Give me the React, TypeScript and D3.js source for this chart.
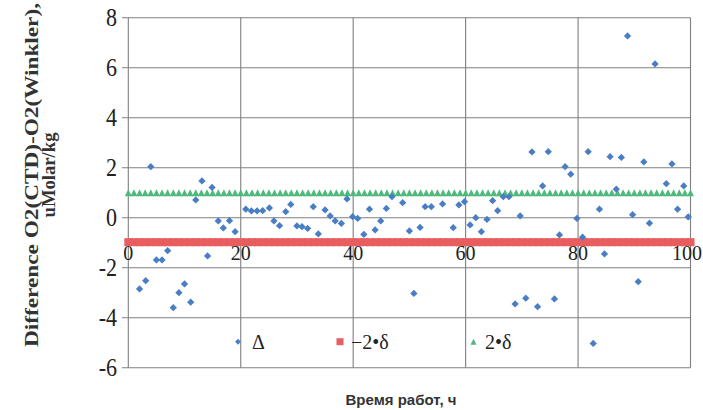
import React from 'react';
import * as d3 from 'd3';

// Δ series: hour, difference (uMolar/kg)
const deltaHours = [
  2.0, 3.1, 4.0, 5.0, 6.0, 7.0, 8.0, 9.0, 10.0, 11.1, 12.0, 13.1, 14.1, 14.9, 16.0, 16.9, 18.0, 19.0,
  20.9, 21.9, 22.9, 23.9, 25.1, 25.9, 26.9, 28.0, 28.9, 30.0, 30.9, 31.9, 32.9, 33.8, 35.0, 35.9, 36.8,
  37.9, 38.9, 39.9, 40.8, 41.9, 42.9, 43.9, 44.9, 45.9, 46.9, 48.8, 50.0, 50.8, 51.9, 52.8, 53.9, 55.9,
  57.8, 58.8, 59.8, 60.8, 61.8, 62.8, 63.8, 64.8, 65.7, 66.7, 67.7, 68.8, 69.7, 70.7, 71.8, 72.8, 73.7,
  74.7, 75.8, 76.7, 77.7, 78.7, 79.8, 80.8, 81.8, 82.7, 83.8, 84.7, 85.7, 86.8, 87.7, 88.8, 89.7, 90.7,
  91.7, 92.7, 93.7, 95.7, 96.7, 97.7, 98.8, 99.6,
];
const deltaValues = [
  -2.85, -2.52, 2.04, -1.69, -1.69, -1.32, -3.6, -3.0, -2.65, -3.38, 0.71, 1.47, -1.53, 1.21, -0.13, -0.41, -0.12, -0.56,
  0.34, 0.27, 0.27, 0.28, 0.39, -0.13, -0.32, 0.24, 0.53, -0.33, -0.36, -0.43, 0.44, -0.65, 0.31, 0.07, -0.13,
  -0.23, 0.75, 0.04, -0.03, -0.67, 0.34, -0.49, -0.13, 0.37, 0.84, 0.6, -0.53, -3.03, -0.39, 0.44, 0.44, 0.55,
  -0.4, 0.51, 0.64, -0.29, 0.0, -0.56, -0.07, 0.68, 0.28, 0.84, 0.84, -3.45, 0.07, -3.22, 2.63, -3.56, 1.27,
  2.64, -3.25, -0.69, 2.04, 1.74, -0.03, -0.78, 2.64, -5.03, 0.34, -1.45, 2.44, 1.14, 2.41, 7.27, 0.12, -2.56,
  2.23, -0.22, 6.15, 1.36, 2.15, 0.34, 1.27, 0.03,
];

// ±2δ limits, drawn at every hour
const bandHours = d3.range(0, 101);
const lowerLimit = -0.98;
const upperLimit = 1.0;

const xTicks = [0, 20, 40, 60, 80, 100];
const yTicks = [-6, -4, -2, 0, 2, 4, 6, 8];

const BLUE = '#4a7ec4';
const RED = '#e85d5e';
const GREEN = '#4fb97c';
const GRID = '#7f7f7f';
const SERIF = "'Liberation Serif', 'DejaVu Serif', 'Times New Roman', serif";
const SANS = "'Liberation Sans', Arial, sans-serif";

export default function App() {
  const width = 703;
  const height = 410;
  const x = d3.scaleLinear().domain([0, 100]).range([128.3, 690.5]);
  const y = d3.scaleLinear().domain([-6, 8]).range([367.7, 17.7]);

  const diamond = d3.symbol().type(d3.symbolDiamond2).size(34)();
  const tri = (cx: number, cy: number, w: number, h: number) =>
    `M${cx - w / 2},${cy + h / 2}L${cx},${cy - h / 2}L${cx + w / 2},${cy + h / 2}Z`;

  const serif = { fontFamily: SERIF };

  return (
    <svg width={width} height={height} style={{ position: 'absolute', left: 0, top: 0, background: '#fff' }}>
      {/* grid */}
      <g stroke={GRID} strokeWidth={1.1}>
        {yTicks.map((t) => (
          <line key={'gy' + t} x1={122} x2={x(100)} y1={y(t)} y2={y(t)} />
        ))}
        {xTicks.map((t) => (
          <line key={'gx' + t} x1={x(t)} x2={x(t)} y1={y(8)} y2={y(-6)} />
        ))}
      </g>

      {/* y tick labels */}
      <g style={serif} fontSize={22} fill="#222" textAnchor="end">
        {yTicks.map((t) => (
          <text key={'ty' + t} x={117} y={y(t) + 7.5} transform={`translate(0,${-y(t) * 0.15}) scale(1,1.15)`}>
            {t}
          </text>
        ))}
      </g>

      {/* limits */}
      <g fill={RED}>
        {bandHours.map((h) => (
          <rect key={'r' + h} x={x(h) - 4} y={y(lowerLimit) - 4} width={8} height={8} />
        ))}
      </g>
      <g fill={GREEN}>
        {bandHours.map((h) => (
          <path key={'g' + h} d={tri(x(h), y(upperLimit), 7, 7)} />
        ))}
      </g>

      {/* Δ points */}
      <g fill={BLUE}>
        {deltaHours.map((h, i) => (
          <path key={'d' + i} d={diamond} transform={`translate(${x(h)},${y(deltaValues[i])})`} />
        ))}
      </g>

      {/* x tick labels */}
      <g style={serif} fontSize={20} fill="#222">
        {xTicks.map((t) => (
          <text
            key={'tx' + t}
            x={t === 100 ? 702 : x(t)}
            y={260}
            textAnchor={t === 100 ? 'end' : 'middle'}
          >
            {t}
          </text>
        ))}
      </g>

      {/* legend */}
      <g style={serif} fontSize={20} fill="#222">
        <path d={d3.symbol().type(d3.symbolDiamond2).size(22)()} transform="translate(238,341.7)" fill={BLUE} />
        <text x={252} y={349}>Δ</text>
        <rect x={336.5} y={338.2} width={7} height={7} fill={RED} />
        <text x={351} y={349}>−2•δ</text>
        <path d={tri(473.5, 341.7, 6, 6)} fill={GREEN} />
        <text x={485} y={349}>2•δ</text>
      </g>

      {/* axis titles */}
      <text x={401} y={405} textAnchor="middle" style={{ fontFamily: SANS }} fontWeight="bold" fontSize={15} fill="#333">
        Время работ, ч
      </text>
      <g style={serif} fontWeight="bold" fontSize={18} fill="#333" textAnchor="middle">
        <text transform="translate(38,175) rotate(-90)" textLength={344} lengthAdjust="spacingAndGlyphs">
          Difference O2(CTD)-O2(Winkler),
        </text>
        <text transform="translate(55,175) rotate(-90)" textLength={85} lengthAdjust="spacingAndGlyphs">
          uMolar/kg
        </text>
      </g>
    </svg>
  );
}
